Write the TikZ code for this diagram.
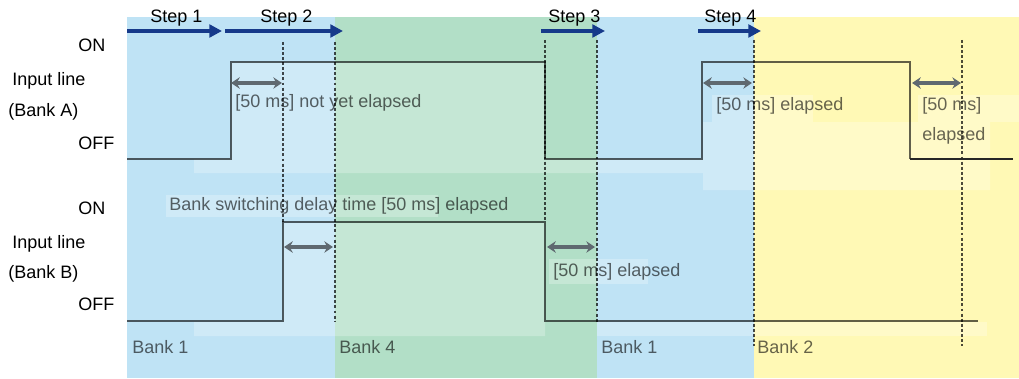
\documentclass[tikz,border=0pt]{standalone}
\usepackage{fontspec}
\setmainfont{Liberation Sans}
\usetikzlibrary{arrows.meta}

\definecolor{bankblue}{RGB}{191,227,245}
\definecolor{bankgreen}{RGB}{178,223,199}
\definecolor{bankyellow}{RGB}{255,249,181}
\definecolor{stepblue}{RGB}{22,58,138}
\definecolor{spangray}{RGB}{95,105,112}

\begin{document}
\begin{tikzpicture}[x=0.75pt, y=-0.75pt, font=\fontsize{13.5}{16}\selectfont,
  lbl/.style={anchor=base west, inner sep=0pt},
  note/.style={lbl, text=black, text opacity=0.6},
  veil/.style={fill=white, fill opacity=0.26},
  wave/.style={draw=black, draw opacity=0.62, line width=1.8pt},
  guide/.style={draw=black, draw opacity=0.7, line width=1.2pt, dash pattern=on 2.2pt off 1.6pt},
  durarrow/.style={{Stealth[length=6.5pt,width=8.5pt]}-{Stealth[length=6.5pt,width=8.5pt]}, draw=spangray, fill=spangray, line width=2.8pt},
  steparrow/.style={-{Triangle[length=9.5pt,width=9.5pt]}, draw=stepblue, line width=2.6pt}]
\useasboundingbox (0,0) rectangle (1019,378);

% bank areas
\fill[bankblue]   (127,17) rectangle (335,378);
\fill[bankgreen]  (335,17) rectangle (597,378);
\fill[bankblue]   (597,17) rectangle (754,378);
\fill[bankyellow] (754,17) rectangle (1019,378);

% light boxes behind the traces and texts
\fill[veil] (194,173) -- (194,159) -- (231,159) -- (231,62) -- (545,62) -- (545,159) -- (703,159) -- (703,122)
  -- (990,122) -- (990,190) -- (703,190) -- (703,173) -- cycle;
\fill[veil] (712,95) rectangle (813,122);
\fill[veil] (918,95) rectangle (1019,122);
\fill[veil] (166,195) rectangle (438,217);
\fill[veil] (194,336) -- (194,322) -- (283,322) -- (283,223) -- (545,223) -- (545,336) -- cycle;
\fill[veil] (597,322) rectangle (987,336);
\fill[veil] (549,259) rectangle (648,284);

% time points
\coordinate (a0) at (127,159);
\coordinate (b0) at (127,321);

% timing lines
\draw[guide] (283,42) -- (283,222);
\draw[guide] (335,42) -- (335,322);
\draw[guide] (545,40) -- (545,222);
\draw[guide] (597,40) -- (597,322);
\draw[guide] (754,40) -- (754,346);
\draw[guide] (962,40) -- (962,346);

% input line A
\draw[wave] (a0) -| (231,62) -| (545,159) -| (702,62) -| (910,159);
\draw[line width=1.8pt, draw=black!85] (910,159) -- (1013,159);
% input line B
\draw[wave] (b0) -| (283,222) -| (545,321) -- (978,321);

% elapsed times
\coordinate (d1a) at (231,83);  \coordinate (d1b) at (282,83);
\coordinate (d2a) at (703,83);  \coordinate (d2b) at (752,83);
\coordinate (d3a) at (912,83);  \coordinate (d3b) at (961,83);
\coordinate (d4a) at (284,247); \coordinate (d4b) at (333,247);
\coordinate (d5a) at (547,247); \coordinate (d5b) at (595,247);
\draw[durarrow] (d1a) -- (d1b);
\draw[durarrow] (d2a) -- (d2b);
\draw[durarrow] (d3a) -- (d3b);
\draw[durarrow] (d4a) -- (d4b);
\draw[durarrow] (d5a) -- (d5b);

% steps
\coordinate (s1a) at (127,31); \coordinate (s1b) at (222,31);
\coordinate (s2a) at (225,31); \coordinate (s2b) at (343,31);
\coordinate (s3a) at (541,31); \coordinate (s3b) at (605,31);
\coordinate (s4a) at (698,31); \coordinate (s4b) at (761,31);
\draw[steparrow] (s1a) -- (s1b);
\draw[steparrow] (s2a) -- (s2b);
\draw[steparrow] (s3a) -- (s3b);
\draw[steparrow] (s4a) -- (s4b);
\node[lbl] (step1) at (150,23) {Step 1};
\node[lbl] (step2) at (260,23) {Step 2};
\node[lbl] (step3) at (548,23) {Step 3};
\node[lbl] (step4) at (704,23) {Step 4};

% axis texts
\node[lbl] (onA)   at (78,51)  {ON};
\node[lbl] (inA)   at (12,85)  {Input line};
\node[lbl] (bankA) at (8,116)  {(Bank A)};
\node[lbl] (offA)  at (78,149) {OFF};
\node[lbl] (onB)   at (78,214) {ON};
\node[lbl] (inB)   at (12,248) {Input line};
\node[lbl] (bankB) at (8,278)  {(Bank B)};
\node[lbl] (offB)  at (78,310) {OFF};

% notes
\node[note] (notyet) at (235,107) {[50 ms] not yet elapsed};
\node[note] (elA)    at (716,110) {[50 ms] elapsed};
\node[note] (elA2)   at (922,110) {[50 ms]};
\node[note] (elA3)   at (922,140) {elapsed};
\node[note] (delay)  at (169,210) {Bank switching delay time [50 ms] elapsed};
\node[note] (elB)    at (553,276) {[50 ms] elapsed};

% banks
\node[note] (bk1) at (132,353) {Bank 1};
\node[note] (bk4) at (339,353) {Bank 4};
\node[note] (bk1b) at (601,353) {Bank 1};
\node[note] (bk2) at (757,353) {Bank 2};
\end{tikzpicture}
\end{document}
